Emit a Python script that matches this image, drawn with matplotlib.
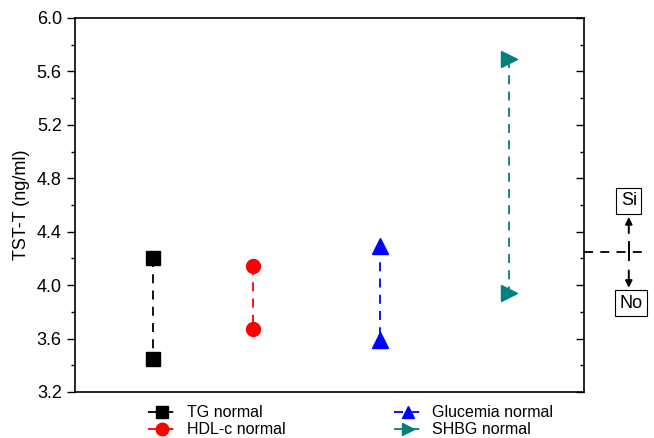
import matplotlib.pyplot as plt
import matplotlib.transforms as mtransforms
from matplotlib.ticker import MultipleLocator

plt.rcParams['font.family'] = ['Liberation Sans', 'DejaVu Sans']

# x position of each group, and its two values (high, low)
groups = ['TG normal', 'HDL-c normal', 'Glucemia normal', 'SHBG normal']
xpos = [0.153, 0.35, 0.6, 0.853]
high = [4.20, 4.14, 4.29, 5.69]
low = [3.45, 3.67, 3.59, 3.94]
colors = ['black', 'red', 'blue', '#008080']
markers = ['s', 'o', '^', '>']
msizes = [10, 10, 11, 11]

fig = plt.figure(figsize=(6.54, 4.38), dpi=100)
ax = fig.add_axes([75 / 654, 1 - 392 / 438, 509 / 654, 374 / 438])

handles = []
for i in range(len(groups)):
    h, = ax.plot([xpos[i], xpos[i]], [high[i], low[i]], linestyle='--',
                 color=colors[i], marker=markers[i], markersize=msizes[i],
                 lw=1.3, dashes=(5, 4), label=groups[i])
    handles.append(h)

ax.set_xlim(0, 1)
ax.set_ylim(3.2, 6.0)
ax.set_xticks([])
ax.yaxis.set_major_locator(MultipleLocator(0.4))
ax.yaxis.set_minor_locator(MultipleLocator(0.2))
ax.tick_params(axis='y', which='both', direction='out', labelsize=13,
               right=True, width=1)
ax.tick_params(axis='y', which='major', length=6)
ax.tick_params(axis='y', which='minor', length=3)
ax.set_ylabel('TST-T (ng/ml)', fontsize=13, labelpad=5)
for s in ax.spines.values():
    s.set_linewidth(1.2)

# right-hand ticks point inward
for t in ax.yaxis.get_major_ticks() + ax.yaxis.get_minor_ticks():
    t.tick2line.set_marker(0)

# Si / No marker outside the plot on the right
tr = mtransforms.blended_transform_factory(ax.transAxes, ax.transData)
arrow = dict(arrowstyle='-|>', color='black', lw=1.4,
             mutation_scale=10, shrinkA=0, shrinkB=0)
box = dict(boxstyle='square,pad=0.25', fc='white', ec='black', lw=0.8)
ax.plot([1.0, 1.125], [4.25, 4.25], ls='--', dashes=(5, 4), color='black',
        lw=1.3, transform=tr, clip_on=False)
ax.plot([1.088, 1.088], [4.32, 4.19], color='black', lw=1.4,
        transform=tr, clip_on=False)
ax.annotate('', xy=(1.088, 4.51), xytext=(1.088, 4.39), xycoords=tr,
            textcoords=tr, annotation_clip=False, arrowprops=arrow)
ax.annotate('', xy=(1.088, 3.98), xytext=(1.088, 4.11), xycoords=tr,
            textcoords=tr, annotation_clip=False, arrowprops=arrow)
ax.text(1.088, 4.63, 'Si', transform=tr, ha='center', va='center',
        fontsize=13, bbox=box, clip_on=False)
ax.text(1.092, 3.865, 'No', transform=tr, ha='center', va='center',
        fontsize=13, bbox=box, clip_on=False)

leg = fig.legend(handles=handles, ncol=2, loc='upper left',
                 bbox_to_anchor=(142 / 654, 1 - 399 / 438), frameon=False,
                 fontsize=11.5, handlelength=1.7, handletextpad=0.7,
                 columnspacing=6.8, labelspacing=0.12, borderaxespad=0.0)
for lh in leg.legend_handles:
    lh.set_markersize(9)

fig.savefig('out.png', dpi=100)
